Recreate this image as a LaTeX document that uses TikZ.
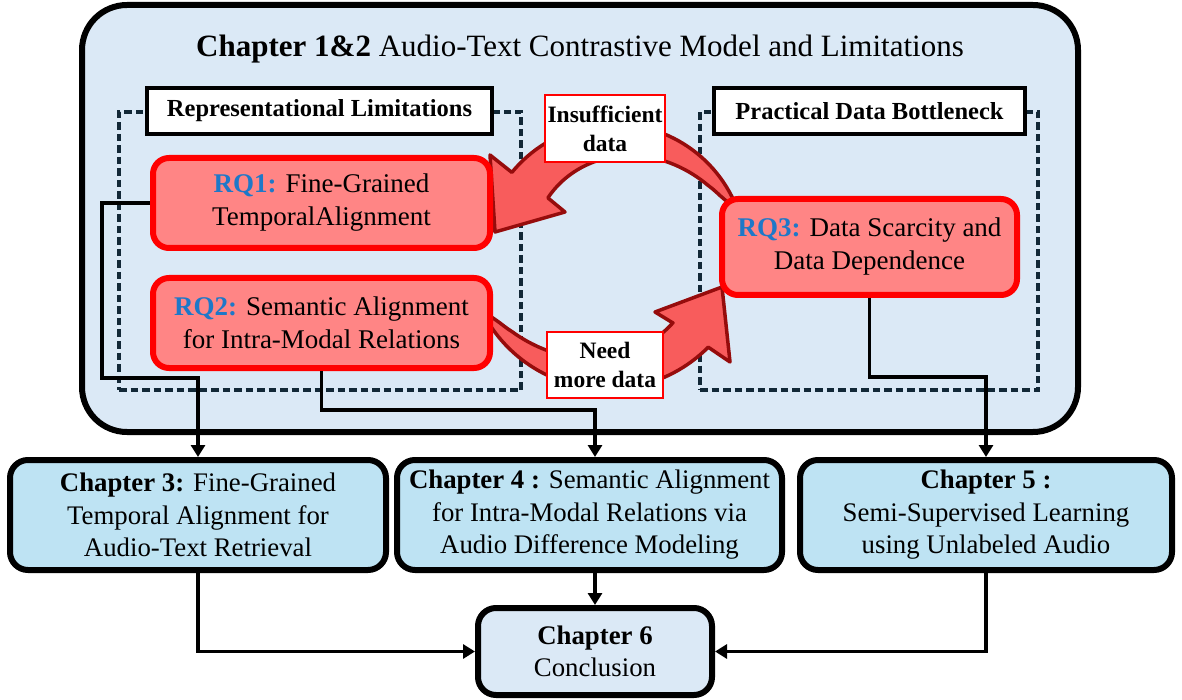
\documentclass[tikz,border=0pt]{standalone}
\usepackage{fontspec}
\setmainfont{Liberation Serif}
\usetikzlibrary{arrows.meta}
\definecolor{framefill}{RGB}{219,233,246}
\definecolor{chfill}{RGB}{190,227,243}
\definecolor{rqfill}{RGB}{255,133,133}
\definecolor{rqblue}{RGB}{30,120,200}
\definecolor{dashcol}{RGB}{18,40,55}
\definecolor{arrfill}{RGB}{248,92,92}
\definecolor{arrdraw}{RGB}{150,12,12}
\begin{document}
\begin{tikzpicture}[x=1pt,y=-1pt,
  frame/.style={draw=black, line width=6pt, fill=framefill, rounded corners=45pt, inner sep=0pt},
  dashbox/.style={draw=dashcol, line width=3.3pt, dash pattern=on 7.5pt off 4pt, inner sep=0pt},
  labbox/.style={draw=black, line width=4pt, fill=white, inner sep=0pt, font=\fontsize{24.5}{29}\selectfont\bfseries},
  rqbox/.style={draw=red, line width=6pt, fill=rqfill, rounded corners=16pt, align=center, inner sep=0pt, font=\fontsize{27}{33}\selectfont},
  chbox/.style={draw=black, line width=6pt, fill=chfill, rounded corners=18pt, align=center, inner sep=0pt, font=\fontsize{26.8}{32.5}\selectfont},
  tagbox/.style={draw=red, line width=1.5pt, fill=white, align=center, inner sep=0pt, font=\fontsize{23.5}{29}\selectfont\bfseries},
  conn/.style={draw=black, line width=3.2pt},
  arr/.style={conn, -{Triangle[length=12pt,width=14pt]}},
  carrow/.style={fill=arrfill, draw=arrdraw, line width=3.5pt, line join=round}
]
\useasboundingbox (0,0) rectangle (1182,700);

% outer frame
\node[frame, minimum width=996pt, minimum height=427pt] (frame) at (580,218.5) {};
\node[font=\fontsize{31}{36}\selectfont] (title) at (580,49) {\textbf{Chapter 1\&2} Audio-Text Contrastive Model and Limitations};

% dashed groups
\node[dashbox, minimum width=402pt, minimum height=278pt] (dl) at (320,251) {};
\node[dashbox, minimum width=338pt, minimum height=278pt] (dr) at (869,251) {};
\node[labbox, minimum width=345pt, minimum height=46pt] (lab1) at (319.5,111) {Representational Limitations};
\node[labbox, minimum width=311pt, minimum height=46pt] (lab2) at (869.5,111) {Practical Data Bottleneck};

% curved arrows
\path[carrow]
  plot[domain=-22:-140.7, samples=50, variable=\t] ({614+132*cos(\t)},{256+132*sin(\t)})
  -- (490,155) -- (495,232) -- (565,212) -- (548,198)
  -- plot[domain=-138.7:-22.5, samples=50, variable=\t] ({614+(132-44*pow((\t+22)/(-116.7),0.55))*cos(\t)},{256+(132-44*pow((\t+22)/(-116.7),0.55))*sin(\t)})
  -- cycle;
\path[carrow]
  plot[domain=152:44.7, samples=50, variable=\t] ({608+141*cos(\t)},{248+141*sin(\t)})
  -- (730,362) -- (722,287) -- (655,312) -- (673,323)
  -- plot[domain=49:151.5, samples=50, variable=\t] ({608+(141-42*pow((152-\t)/103,0.55))*cos(\t)},{248+(141-42*pow((152-\t)/103,0.55))*sin(\t)})
  -- cycle;

% chapter boxes
\node[chbox, minimum width=376pt, minimum height=110pt] (ch3) at (198,515) {\textbf{Chapter 3:} Fine-Grained\\Temporal Alignment for\\Audio-Text Retrieval};
\node[chbox, minimum width=385pt, minimum height=110pt] (ch4) at (589.5,515) {\textbf{Chapter 4 :} Semantic Alignment\\for Intra-Modal Relations via\\Audio Difference Modeling};
\node[chbox, minimum width=372pt, minimum height=110pt] (ch5) at (986,515) {\textbf{Chapter 5 :}\\Semi-Supervised Learning\\using Unlabeled Audio};
\node[chbox, fill=framefill, minimum width=234pt, minimum height=87pt] (ch6) at (595,651.5) {\textbf{Chapter 6}\\Conclusion};

% RQ boxes
\node[rqbox, minimum width=337pt, minimum height=90pt] (rq1) at (321.5,203) {\textcolor{rqblue}{\textbf{RQ1:}} Fine-Grained\\TemporalAlignment};
\node[rqbox, minimum width=337pt, minimum height=90pt] (rq2) at (321.5,323) {\textcolor{rqblue}{\textbf{RQ2:}} Semantic Alignment\\for Intra-Modal Relations};
\node[rqbox, minimum width=295pt, minimum height=96pt] (rq3) at (869.5,247) {\textcolor{rqblue}{\textbf{RQ3:}} Data Scarcity and\\Data Dependence};

% tags on curved arrows
\node[tagbox, minimum width=120pt, minimum height=67pt] (tag1) at (605,128.5) {Insufficient\\data};
\node[tagbox, minimum width=116pt, minimum height=66pt] (tag2) at (605,365) {Need\\more data};

% connectors
\coordinate (j1) at (102,378);
\draw[arr] (rq1.west) -| (j1) -| (ch3.north);
\coordinate (j2) at (321.5,410);
\draw[arr] (rq2.south) -- (j2) -| (ch4.north -| ch6.north);
\coordinate (j3) at (869.5,377);
\draw[arr] (rq3.south) -- (j3) -| (ch5.north);
\draw[arr] (ch3.south) |- (ch6.west);
\draw[arr] (ch5.south) |- (ch6.east);
\draw[arr] (ch4.south -| ch6.north) -- (ch6.north);
\end{tikzpicture}
\end{document}
